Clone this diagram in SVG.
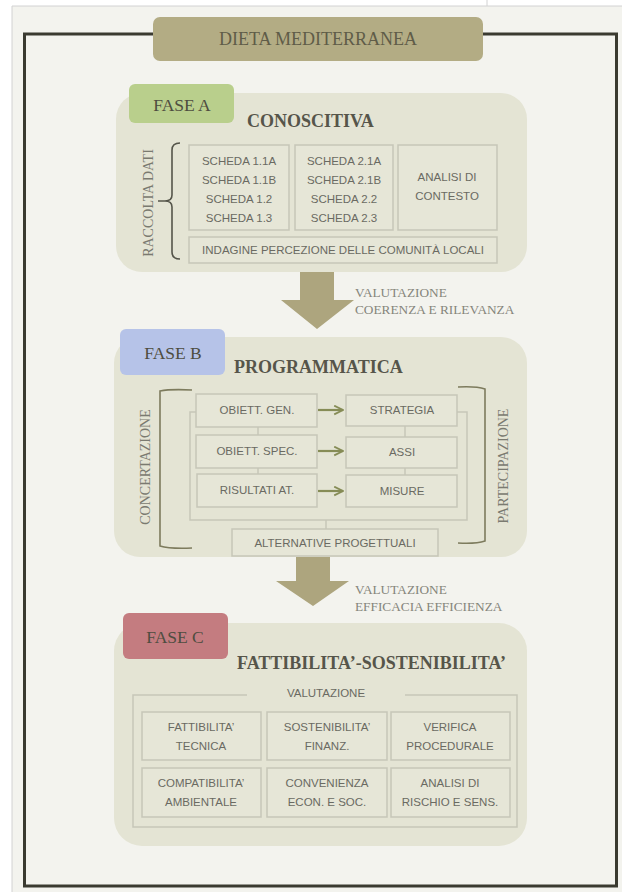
<svg xmlns="http://www.w3.org/2000/svg" width="622" height="892" viewBox="0 0 622 892">
<defs>
<style>
.serif{font-family:"Liberation Serif","Times New Roman",serif}
.sans{font-family:"Liberation Sans",Arial,sans-serif;font-size:11.5px;fill:#6a6a62;text-anchor:middle}
.panel{fill:#e4e4d4}
.box{fill:#e6e6d7;stroke:#c6c6b8;stroke-width:1.5}
.tabtxt{font-family:"Liberation Serif","Times New Roman",serif;font-size:17.5px;fill:#4e4d40;text-anchor:middle}
.head{font-family:"Liberation Serif","Times New Roman",serif;font-size:18px;font-weight:bold;fill:#56554a}
.vert{font-family:"Liberation Serif","Times New Roman",serif;font-size:14px;fill:#7a7a70;text-anchor:middle}
.eval{font-family:"Liberation Serif","Times New Roman",serif;font-size:13.3px;fill:#85857b}
.line{fill:none;stroke:#c6c6b8;stroke-width:1.5}
.garrow{fill:none;stroke:#868c56;stroke-width:2.2}
.big{fill:#ada57e}
</style>
<marker id="chev" viewBox="0 0 10 10" refX="9" refY="5" markerWidth="5" markerHeight="5" orient="auto" markerUnits="strokeWidth">
<path d="M1,1 L9,5 L1,9" fill="none" stroke="#868c56" stroke-width="1.6"/>
</marker>
</defs>
<rect x="0" y="0" width="622" height="892" fill="#ffffff"/>
<rect x="12" y="6" width="610" height="886" fill="#f3f3ee"/>
<path d="M12,892 L12,6 L622,6 M487,0 L487,6" fill="none" stroke="#d2d2d2" stroke-width="1"/>
<rect x="24.5" y="34" width="592" height="852" fill="none" stroke="#3a3a30" stroke-width="3"/>

<g id="title">
<rect x="153" y="17" width="330" height="44" rx="7" fill="#b3ac84"/>
<text x="318" y="45" class="serif" font-size="18" fill="#5f5c48" text-anchor="middle">DIETA MEDITERRANEA</text>
</g>

<g id="faseA">
<rect x="116" y="93" width="411" height="179" rx="26" class="panel"/>
<rect x="129" y="84" width="105" height="39" rx="6" fill="#b9cf8c"/>
<text x="182" y="111" class="tabtxt">FASE A</text>
<text x="247" y="127" class="head">CONOSCITIVA</text>
<text x="153" y="203" class="vert" transform="rotate(-90 153 203)">RACCOLTA DATI</text>
<path d="M180,143 Q172,143 172,150 L172,195 Q172,201 165,201 L158,201 M165,201 Q172,201 172,207 L172,252 Q172,259 180,259" fill="none" stroke="#55554a" stroke-width="1.6"/>
<g id="schede1">
<rect x="189" y="145" width="100" height="85" class="box"/>
<text x="239" y="165" class="sans">SCHEDA 1.1A</text>
<text x="239" y="184" class="sans">SCHEDA 1.1B</text>
<text x="239" y="203" class="sans">SCHEDA 1.2</text>
<text x="239" y="222" class="sans">SCHEDA 1.3</text>
</g>
<g id="schede2">
<rect x="295" y="145" width="98" height="85" class="box"/>
<text x="344" y="165" class="sans">SCHEDA 2.1A</text>
<text x="344" y="184" class="sans">SCHEDA 2.1B</text>
<text x="344" y="203" class="sans">SCHEDA 2.2</text>
<text x="344" y="222" class="sans">SCHEDA 2.3</text>
</g>
<g id="analisi">
<rect x="398" y="145" width="99" height="85" class="box"/>
<text x="447" y="181" class="sans">ANALISI DI</text>
<text x="447" y="200" class="sans">CONTESTO</text>
</g>
<g id="indagine">
<rect x="189" y="237" width="308" height="26" class="box"/>
<text x="343" y="254" class="sans">INDAGINE PERCEZIONE DELLE COMUNITÀ LOCALI</text>
</g>
</g>

<g id="faseB">
<rect x="114" y="337" width="413" height="220" rx="26" class="panel"/>
<rect x="120" y="329" width="105" height="46" rx="6" fill="#b6c3e8"/>
<text x="173" y="359" class="tabtxt">FASE B</text>
<text x="234" y="373" class="head">PROGRAMMATICA</text>
<text x="150" y="467" class="vert" transform="rotate(-90 150 467)">CONCERTAZIONE</text>
<text x="508" y="466" class="vert" transform="rotate(-90 508 466)">PARTECIPAZIONE</text>
<path d="M192,390 Q170,389 160,391 L160,546 Q170,549 192,548" fill="none" stroke="#7d7b5d" stroke-width="1.6"/>
<path d="M458,387 Q476,386 485,389 L485,541 Q476,544 458,543" fill="none" stroke="#7d7b5d" stroke-width="1.6"/>
<g id="obgen"><rect x="196" y="394" width="121" height="33" class="box"/><text x="257" y="414" class="sans">OBIETT. GEN.</text></g>
<g id="strategia"><rect x="346" y="395" width="111" height="31" class="box"/><text x="402" y="414" class="sans">STRATEGIA</text></g>
<g id="obspec"><rect x="196" y="435" width="121" height="33" class="box"/><text x="257" y="455" class="sans">OBIETT. SPEC.</text></g>
<g id="assi"><rect x="346" y="437" width="111" height="31" class="box"/><text x="402" y="456" class="sans">ASSI</text></g>
<g id="risultati"><rect x="197" y="474" width="120" height="33" class="box"/><text x="257" y="494" class="sans">RISULTATI AT.</text></g>
<g id="misure"><rect x="346" y="475" width="111" height="32" class="box"/><text x="402" y="495" class="sans">MISURE</text></g>
<g id="alternative"><rect x="232" y="529" width="206" height="27" class="box"/><text x="335" y="547" class="sans">ALTERNATIVE PROGETTUALI</text></g>
</g>

<g id="faseC">
<rect x="114" y="623" width="413" height="223" rx="28" class="panel"/>
<rect x="123" y="613" width="105" height="46" rx="6" fill="#c47c80"/>
<text x="175" y="643" class="tabtxt">FASE C</text>
<text x="237" y="669" class="head">FATTIBILITA’-SOSTENIBILITA’</text>
<path d="M247,695 L133,695 L133,827 L517,827 L517,695 L405,695" class="line"/>
<text x="326" y="697" class="sans">VALUTAZIONE</text>
<g id="fattTec"><rect x="142" y="712" width="119" height="48" class="box"/><text x="201" y="731" class="sans">FATTIBILITA’</text><text x="201" y="750" class="sans">TECNICA</text></g>
<g id="sostFin"><rect x="267" y="712" width="120" height="48" class="box"/><text x="327" y="731" class="sans">SOSTENIBILITA’</text><text x="327" y="750" class="sans">FINANZ.</text></g>
<g id="verProc"><rect x="391" y="712" width="119" height="48" class="box"/><text x="450" y="731" class="sans">VERIFICA</text><text x="450" y="750" class="sans">PROCEDURALE</text></g>
<g id="compAmb"><rect x="142" y="768" width="119" height="49" class="box"/><text x="201" y="787" class="sans">COMPATIBILITA’</text><text x="201" y="806" class="sans">AMBIENTALE</text></g>
<g id="convEcon"><rect x="267" y="768" width="120" height="49" class="box"/><text x="327" y="787" class="sans">CONVENIENZA</text><text x="327" y="806" class="sans">ECON. E SOC.</text></g>
<g id="analRisc"><rect x="391" y="768" width="119" height="49" class="box"/><text x="450" y="787" class="sans">ANALISI DI</text><text x="450" y="806" class="sans">RISCHIO E SENS.</text></g>
</g>

<g id="connectors">
<path d="M300,272 L334,272 L334,300 L354,300 L317,329 L281,300 L300,300 Z" class="big"/>
<text x="355" y="297" class="eval">VALUTAZIONE</text>
<text x="355" y="314" class="eval">COERENZA E RILEVANZA</text>
<path d="M296,557 L330,557 L330,581 L349,581 L313,606 L276,581 L296,581 Z" class="big"/>
<text x="355" y="594" class="eval">VALUTAZIONE</text>
<text x="355" y="611" class="eval">EFFICACIA EFFICIENZA</text>
<path d="M196,412 L190,412 L190,520 L467,520 L467,412 L457,412" class="line"/>
<path d="M258,427 L258,435 M258,468 L258,474 M405,426 L405,437 M405,468 L405,475 M326,520 L326,529" class="line"/>
<path d="M318,410 L343,410" class="garrow" marker-end="url(#chev)"/>
<path d="M318,451 L343,451" class="garrow" marker-end="url(#chev)"/>
<path d="M318,491 L343,491" class="garrow" marker-end="url(#chev)"/>
</g>
</svg>
